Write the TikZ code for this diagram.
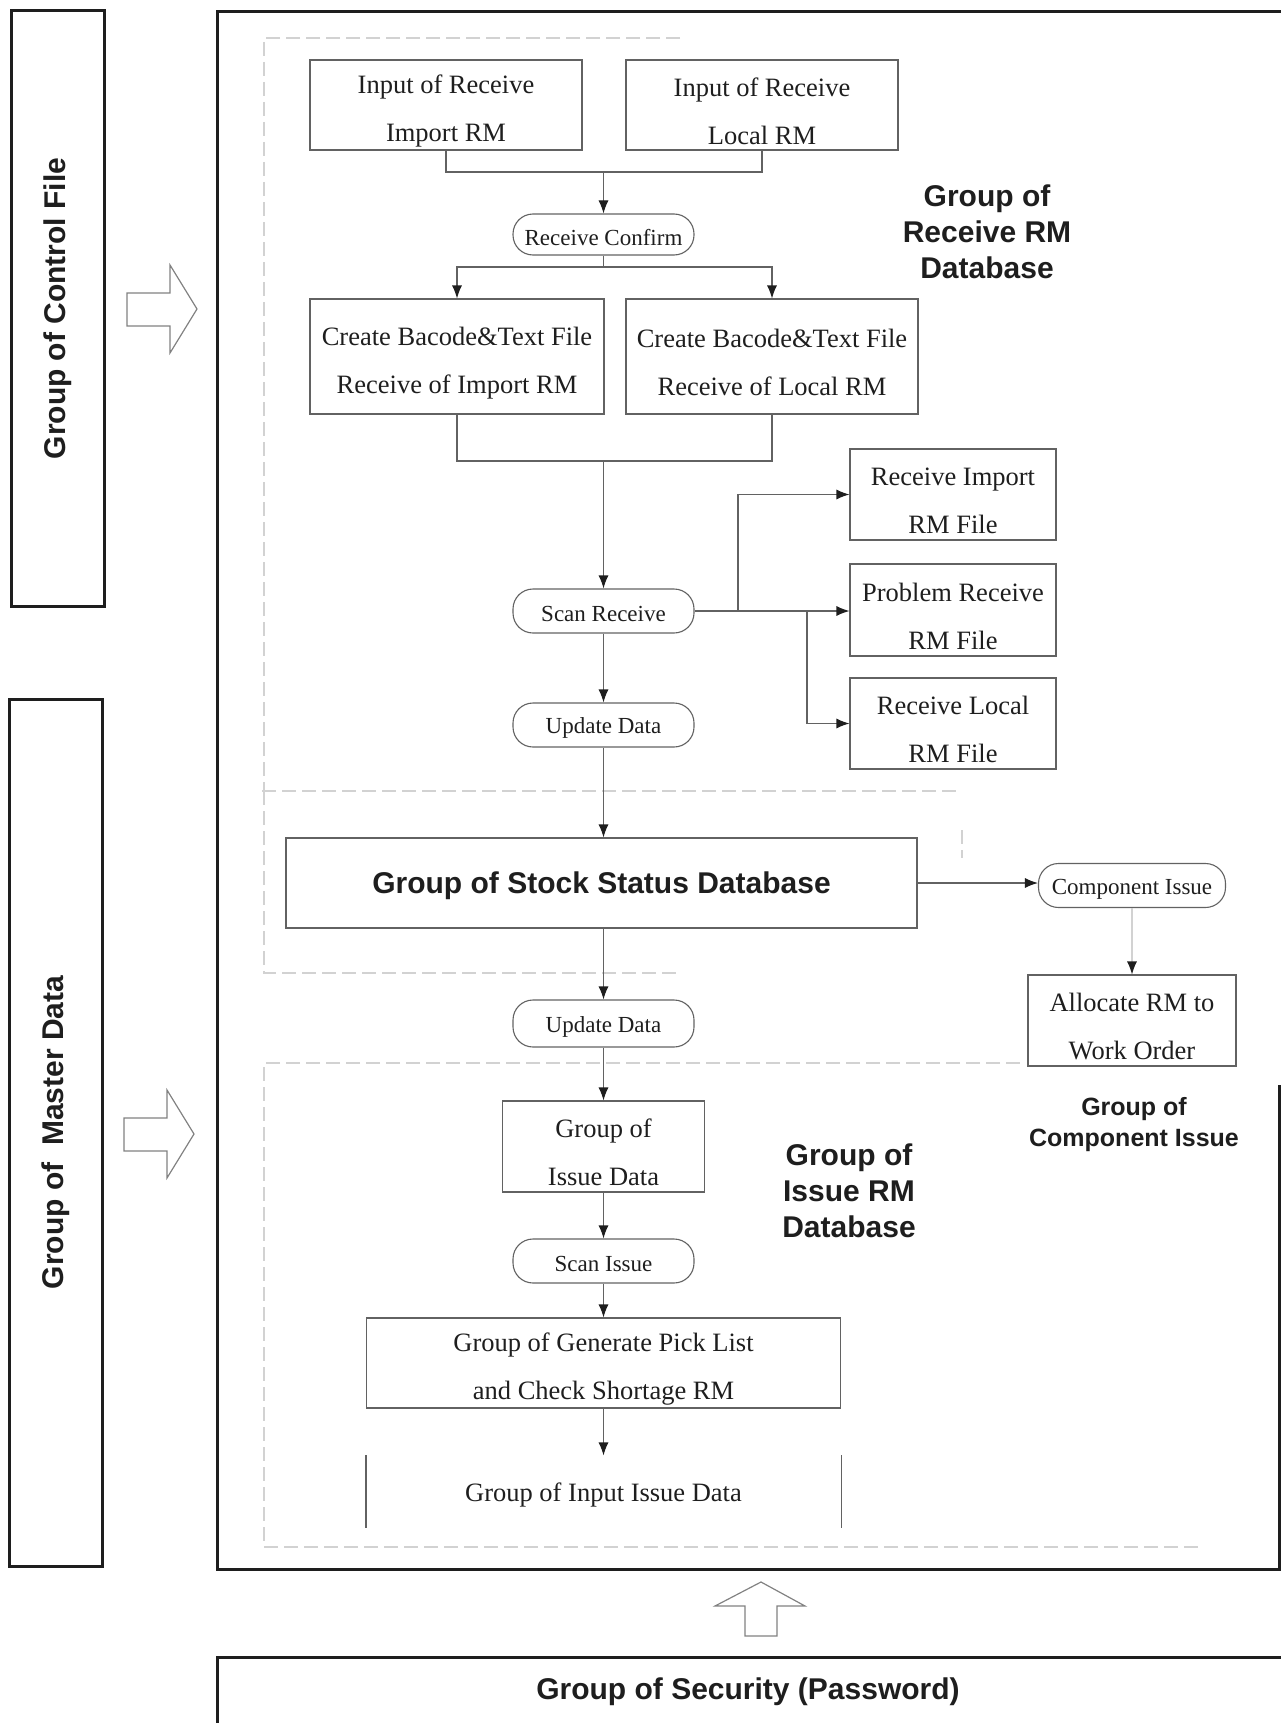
\documentclass[tikz,border=0pt]{standalone}
\usepackage{fontspec}
\setmainfont{Liberation Serif}
\setsansfont{Liberation Sans}
\usetikzlibrary{arrows.meta}
\definecolor{ink}{HTML}{1E1E1E}
\definecolor{edge}{HTML}{626262}
\definecolor{faint}{HTML}{D2D2D2}
\newcommand{\mystrut}[1]{\rule{0pt}{#1}}
\begin{document}
\begin{tikzpicture}[x=1pt,y=-1pt,
  every node/.style={text=ink},
  box/.style={draw=edge, line width=1.1pt, inner sep=0pt, align=center,
              font=\fontsize{26.5}{48}\selectfont},
  pill/.style={draw=edge, line width=1.1pt, rounded corners=20pt, inner sep=0pt, align=center,
              font=\fontsize{23}{28}\selectfont},
  lbl/.style={font=\sffamily\bfseries\fontsize{30}{36}\selectfont, align=center, inner sep=0pt},
  heavy/.style={draw=ink, line width=3pt},
  arr/.style={draw=edge, line width=1.1pt, -{Latex[length=13pt,width=10pt,color=ink]}},
  ln/.style={draw=edge, line width=1.1pt},
  ghost/.style={draw=faint, line width=1.1pt, dashed, dash pattern=on 14pt off 6pt},
  hollow/.style={draw=edge!80, line width=1.2pt, line join=miter}
]
\useasboundingbox (0,0) rectangle (1281,1723);

% left group boxes
\node[heavy, rotate=90, minimum width=595pt, minimum height=93pt, inner sep=0pt,
      font=\sffamily\bfseries\fontsize{30}{36}\selectfont] (cf) at (57.5,308.5) {Group of Control File};
\node[heavy, rotate=90, minimum width=867pt, minimum height=93pt, inner sep=0pt,
      font=\sffamily\bfseries\fontsize{30}{36}\selectfont] (md) at (55.5,1132.5) {Group of\ \ Master Data};

% hollow arrows
\draw[hollow] (127,293) -- (170,293) -- (170,265) -- (197,309) -- (170,353) -- (170,326) -- (127,326) -- cycle;
\draw[hollow] (124,1118) -- (167,1118) -- (167,1090) -- (194,1134) -- (167,1178) -- (167,1151) -- (124,1151) -- cycle;
\draw[hollow] (745,1636) -- (745,1606) -- (715,1606) -- (761,1582) -- (805,1606) -- (777,1606) -- (777,1636) -- cycle;

% main frame
\draw[heavy] (1281,12) -- (217,12) -- (217,1569) -- (1279,1569) -- (1279,1085);
% security frame
\draw[heavy] (1281,1657) -- (217,1657) -- (217,1730);
\node[lbl] (sec) at (748,1692) {Group of Security (Password)};

% faint group outlines
\draw[ghost] (680,38) -- (264,38) -- (264,791);
\draw[ghost] (262,791) -- (960,791);
\draw[ghost] (264,791) -- (264,973) -- (680,973);
\draw[ghost] (962,830) -- (962,858);
\draw[ghost] (1020,1063) -- (264,1063) -- (264,1547) -- (1200,1547);

% receive group
\node[box, minimum width=272pt, minimum height=90pt] (in1) at (446,105) {\mystrut{31pt}Input of Receive\\Import RM};
\node[box, minimum width=272pt, minimum height=90pt] (in2) at (762,105) {\mystrut{31pt}Input of Receive\\Local RM};
\node[pill, minimum width=181pt, minimum height=41pt] (rc) at (603.5,234.5) {\mystrut{22pt}Receive Confirm};
\node[box, minimum width=294pt, minimum height=115pt] (cb1) at (457,356.5) {\mystrut{31pt}Create Bacode\&Text File\\Receive of Import RM};
\node[box, minimum width=292pt, minimum height=115pt] (cb2) at (772,356.5) {\mystrut{31pt}Create Bacode\&Text File\\Receive of Local RM};
\node[pill, minimum width=181pt, minimum height=44pt] (sr) at (603.5,611) {\mystrut{22pt}Scan Receive};
\node[box, minimum width=206pt, minimum height=91pt] (ri) at (953,494.5) {\mystrut{31pt}Receive Import\\RM File};
\node[box, minimum width=206pt, minimum height=92pt] (pr) at (953,610) {\mystrut{31pt}Problem Receive\\RM File};
\node[box, minimum width=206pt, minimum height=91pt] (rl) at (953,723.5) {\mystrut{31pt}Receive Local\\RM File};
\node[pill, minimum width=181pt, minimum height=44pt] (ud1) at (603.5,725) {\mystrut{22pt}Update Data};
\node[lbl] (lrec) at (987,232) {Group of\\Receive RM\\Database};

% stock
\node[box, minimum width=631pt, minimum height=90pt,
      font=\sffamily\bfseries\fontsize{30}{36}\selectfont] (ss) at (601.5,883) {\mystrut{28pt}Group of Stock Status Database};
\node[pill, minimum width=187pt, minimum height=44pt] (ci) at (1132,885.5) {\mystrut{22pt}Component Issue};
\node[box, minimum width=208pt, minimum height=91pt] (al) at (1132,1020.5) {\mystrut{31pt}Allocate RM to\\Work Order};
\node[lbl, font=\sffamily\bfseries\fontsize{25}{31}\selectfont] (lci) at (1134,1125) {Group of\\Component Issue};

% issue group
\node[pill, minimum width=181pt, minimum height=47pt] (ud2) at (603.5,1023.5) {\mystrut{22pt}Update Data};
\node[box, minimum width=202pt, minimum height=91pt] (id) at (603.5,1146.5) {\mystrut{31pt}Group of\\Issue Data};
\node[pill, minimum width=181pt, minimum height=44pt] (si) at (603.5,1261) {\mystrut{22pt}Scan Issue};
\node[box, minimum width=474pt, minimum height=90pt] (pl) at (603.5,1363) {\mystrut{31pt}Group of Generate Pick List\\and Check Shortage RM};
\node[box, draw=none, minimum width=474pt, minimum height=71pt] (ii) at (603.5,1491.5) {\mystrut{25pt}Group of Input Issue Data};
\draw[ln] (ii.north west) -- (ii.south west);
\draw[ln] (ii.north east) -- (ii.south east);
\node[lbl] (liss) at (849,1191) {Group of\\Issue RM\\Database};

% connectors
\coordinate (j1) at (603.5,172);
\draw[ln] (in1.south) |- (j1) -| (in2.south);
\draw[arr] (j1) -- (rc.north);
\coordinate (j2) at (603.5,267);
\draw[ln] (rc.south) -- (j2);
\draw[arr] (j2) -| (cb1.north);
\draw[arr] (j2) -| (cb2.north);
\coordinate (j3) at (603.5,461);
\draw[ln] (cb1.south) |- (j3) -| (cb2.south);
\draw[arr] (j3) -- (sr.north);
\coordinate (b1) at (738,611);
\coordinate (b2) at (807,611);
\draw[arr] (sr.east) -- (sr.east -| pr.west);
\draw[arr] (b1) |- (ri.west);
\draw[arr] (b2) |- (rl.west);
\draw[arr] (sr.south) -- (ud1.north);
\draw[arr] (ud1.south) -- (ss.north -| ud1.south);
\draw[arr] (ss.east) -- (ss.east -| ci.west);
\draw[arr, draw=faint] (ci.south) -- (al.north);
\draw[arr] (ss.south -| ud2.north) -- (ud2.north);
\draw[arr] (ud2.south) -- (id.north);
\draw[arr] (id.south) -- (si.north);
\draw[arr] (si.south) -- (pl.north);
\draw[arr] (pl.south) -- (ii.north);
\end{tikzpicture}
\end{document}
